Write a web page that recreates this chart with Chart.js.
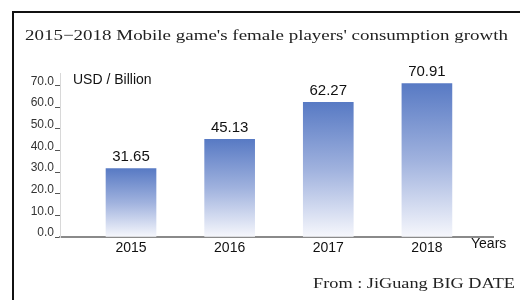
<!DOCTYPE html>
<html>
<head>
<meta charset="utf-8">
<script src="https://cdn.jsdelivr.net/npm/chart.js@4"></script>
<style>
  html, body { margin: 0; padding: 0; background: #fff; }
  canvas { display: block; }
</style>
</head>
<body>
<canvas id="grafico" width="520" height="300"></canvas>
<script>
// dados
const anos = [2015, 2016, 2017, 2018];
const consumo = [31.65, 45.13, 62.27, 70.91];
const ticksY = [0, 10, 20, 30, 40, 50, 60, 70];

const titulo = "2015\u22122018 Mobile game's female players' consumption growth";
const fonte = 'From : JiGuang BIG DATE';
const unidade = 'USD / Billion';
const rotuloX = 'Years';

// escreve texto esticado ate a largura pedida
function textoAjustado(ctx, texto, x, y, largura) {
  const w = ctx.measureText(texto).width;
  ctx.save();
  ctx.translate(x, y);
  ctx.scale(largura / w, 1);
  ctx.fillText(texto, 0, 0);
  ctx.restore();
}

const moldura = {
  id: 'moldura',
  beforeDraw(chart) {
    const ctx = chart.ctx;
    ctx.save();
    ctx.fillStyle = '#fff';
    ctx.fillRect(0, 0, chart.width, chart.height);
    ctx.strokeStyle = '#111';
    ctx.lineWidth = 2;
    ctx.beginPath();
    ctx.moveTo(13, chart.height + 2);
    ctx.lineTo(13, 12);
    ctx.lineTo(chart.width + 2, 12);
    ctx.stroke();

    ctx.fillStyle = '#222';
    ctx.textBaseline = 'alphabetic';
    ctx.font = '15px "Liberation Serif"';
    textoAjustado(ctx, titulo, 25, 39.5, 483);
    textoAjustado(ctx, fonte, 313, 288, 202);

    ctx.fillStyle = '#111';
    ctx.textBaseline = 'middle';
    ctx.font = '14px "Liberation Sans"';
    ctx.fillText(unidade, 73, 80);
    ctx.font = '14px "Liberation Sans"';
    ctx.fillText(rotuloX, 471, 244);
    ctx.restore();
  }
};

// valores em cima das barras
const rotulosBarras = {
  id: 'rotulosBarras',
  afterDatasetsDraw(chart) {
    const ctx = chart.ctx;
    const meta = chart.getDatasetMeta(0);
    ctx.save();
    ctx.fillStyle = '#111';
    ctx.font = '15px "Liberation Sans"';
    ctx.textAlign = 'center';
    ctx.textBaseline = 'bottom';
    meta.data.forEach((barra, i) => {
      ctx.fillText(consumo[i].toFixed(2), barra.x, barra.y - 4);
    });
    ctx.restore();
  }
};

function gradienteBarra(c) {
  const chart = c.chart;
  const { ctx, chartArea, scales } = chart;
  if (!chartArea || !c.raw) return '#7d95d0';
  const topo = scales.y.getPixelForValue(c.raw.y);
  const base = scales.y.getPixelForValue(0);
  const g = ctx.createLinearGradient(0, topo, 0, base);
  g.addColorStop(0, 'rgb(88,122,196)');
  g.addColorStop(0.5, 'rgb(160,178,222)');
  g.addColorStop(1, 'rgb(246,247,252)');
  return g;
}

new Chart(document.getElementById('grafico'), {
  type: 'bar',
  data: {
    datasets: [{
      label: 'consumo',
      data: anos.map((a, i) => ({ x: a, y: consumo[i] })),
      backgroundColor: gradienteBarra,
      barThickness: 50
    }]
  },
  options: {
    responsive: false,
    animation: false,
    devicePixelRatio: 1,
    layout: { padding: { left: 0, right: 27, top: 73, bottom: 43 } },
    plugins: {
      legend: { display: false },
      title: { display: false },
      tooltip: { enabled: false }
    },
    scales: {
      x: {
        type: 'linear',
        offset: false,
        min: 2014.28,
        max: 2018.67,
        afterBuildTicks: s => { s.ticks = anos.map(v => ({ value: v })); },
        afterFit: s => { s.height = 20; },
        grid: { display: false, drawTicks: false },
        border: { color: '#8a8a8a', width: 2 },
        ticks: {
          callback: v => String(v),
          color: '#111',
          padding: 3,
          maxRotation: 0,
          font: { family: 'Liberation Sans', size: 14 }
        }
      },
      y: {
        min: 0,
        max: 75.8,
        afterBuildTicks: s => { s.ticks = ticksY.map(v => ({ value: v })); },
        afterFit: s => { s.width = 60; },
        grid: { drawOnChartArea: false, color: '#555', tickLength: 5 },
        border: { color: '#d8d8d8', width: 1 },
        ticks: {
          callback: v => v.toFixed(1),
          color: '#333',
          padding: 1,
          labelOffset: -4,
          font: { family: 'Liberation Sans', size: 12 }
        }
      }
    }
  },
  plugins: [moldura, rotulosBarras]
});
</script>
</body>
</html>
